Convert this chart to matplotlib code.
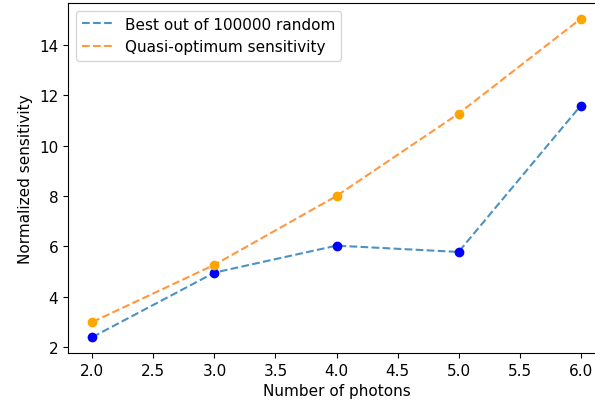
import matplotlib.pyplot as plt

# Datos
fotones = [2, 3, 4, 5, 6]
mejor_aleatorio = [2.40, 4.96, 6.03, 5.78, 11.58]
cuasi_optimo = [3.0, 5.27, 8.0, 11.27, 15.03]

plt.rcParams['font.size'] = 11

fig = plt.figure(figsize=(5.95, 4.10), dpi=100)
ax = fig.add_axes([68 / 595, 56 / 410, 537 / 595, 350 / 410])

ax.plot(fotones, mejor_aleatorio, '--', color='C0', alpha=0.8, label='Best out of 100000 random')
ax.plot(fotones, cuasi_optimo, '--', color='C1', alpha=0.8, label='Quasi-optimum sensitivity')
ax.scatter(fotones, mejor_aleatorio, color='blue', zorder=3)
ax.scatter(fotones, cuasi_optimo, color='orange', zorder=3)

ax.set_xlabel('Number of photons')
ax.set_ylabel('Normalized sensitivity')
ax.legend(loc='upper left')

fig.savefig('out.png', dpi=100)
